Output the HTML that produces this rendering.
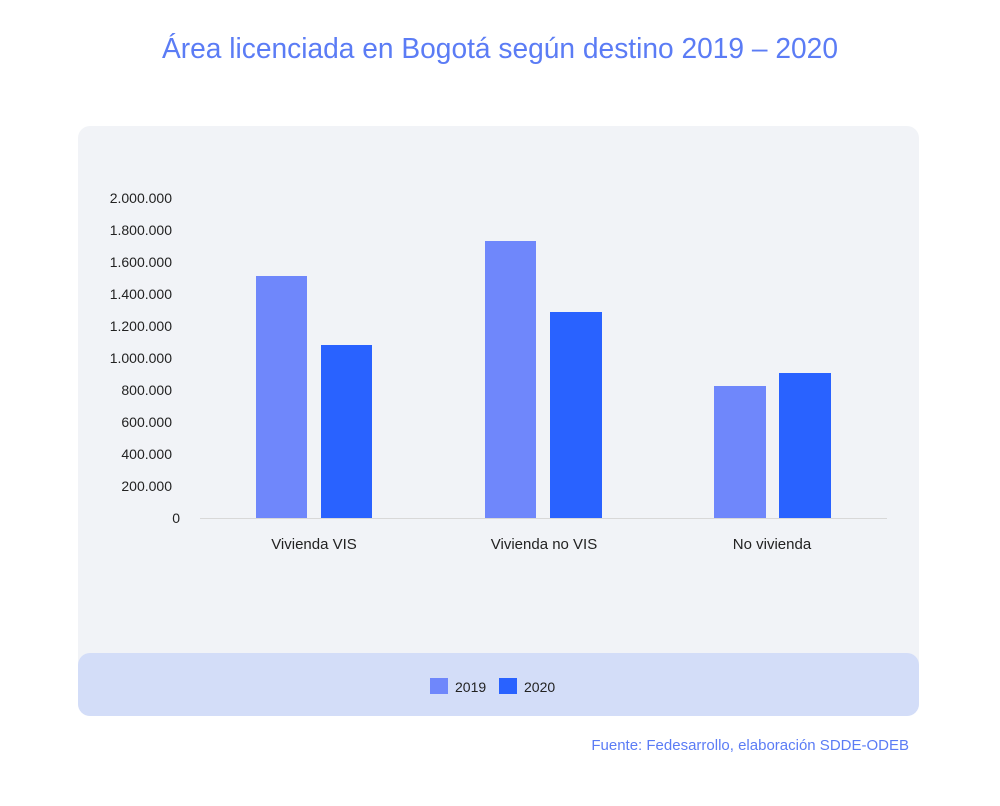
<!DOCTYPE html>
<html><head><meta charset="utf-8"><style>
body{margin:0;background:#fff;font-family:"Liberation Sans",sans-serif;}
</style></head><body>
<svg width="1000" height="801" xmlns="http://www.w3.org/2000/svg" font-family="Liberation Sans, sans-serif">
<rect width="1000" height="801" fill="#fff"/>
<text x="162" y="58" textLength="676" lengthAdjust="spacingAndGlyphs" font-size="29" fill="#5b7cf5">Área licenciada en Bogotá según destino 2019 – 2020</text>
<rect x="78" y="126" width="841" height="590" rx="12" fill="#f1f3f7"/>
<rect x="78" y="653" width="841" height="63" rx="12" fill="#d3ddf8"/>
<g font-size="14" fill="#222" text-anchor="end">
<text x="172" y="203">2.000.000</text>
<text x="172" y="235">1.800.000</text>
<text x="172" y="267">1.600.000</text>
<text x="172" y="299">1.400.000</text>
<text x="172" y="331">1.200.000</text>
<text x="172" y="363">1.000.000</text>
<text x="172" y="395">800.000</text>
<text x="172" y="427">600.000</text>
<text x="172" y="459">400.000</text>
<text x="172" y="491">200.000</text>
<text x="180" y="523">0</text>
</g>
<line x1="200" y1="518.5" x2="887" y2="518.5" stroke="#d8d8d8"/>
<g fill="#6f87fb">
<rect x="256" y="276" width="51" height="242"/>
<rect x="485" y="241" width="51" height="277"/>
<rect x="714" y="386" width="52" height="132"/>
</g>
<g fill="#2962ff">
<rect x="321" y="345" width="51" height="173"/>
<rect x="550" y="312" width="52" height="206"/>
<rect x="779" y="373" width="52" height="145"/>
</g>
<g font-size="15" fill="#222" text-anchor="middle">
<text x="314" y="549">Vivienda VIS</text>
<text x="544" y="549">Vivienda no VIS</text>
<text x="772" y="549">No vivienda</text>
</g>
<rect x="430" y="678" width="18" height="16" fill="#6f87fb"/>
<text x="455" y="692" font-size="14" fill="#222">2019</text>
<rect x="499" y="678" width="18" height="16" fill="#2962ff"/>
<text x="524" y="692" font-size="14" fill="#222">2020</text>
<text x="909" y="750" text-anchor="end" font-size="15" fill="#5b7cf5">Fuente: Fedesarrollo, elaboración SDDE-ODEB</text>
</svg>
</body></html>
